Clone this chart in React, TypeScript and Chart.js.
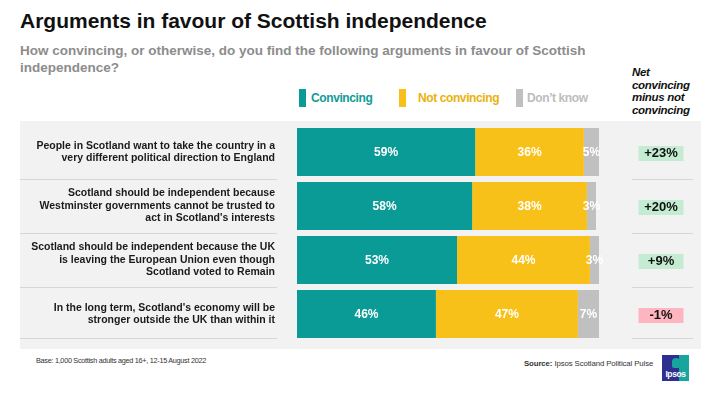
import React, { useEffect, useRef } from "react";
import { Chart, registerables } from "chart.js";

Chart.register(...registerables);

const FONT = '"Liberation Sans", Arial, Helvetica, sans-serif';

const categories: string[][] = [
  ["People in Scotland want to take the country in a", "very different political direction to England"],
  ["Scotland should be independent because", "Westminster governments cannot be trusted to", "act in Scotland's interests"],
  ["Scotland should be independent because the UK", "is leaving the European Union even though", "Scotland voted to Remain"],
  ["In the long term, Scotland's economy will be", "stronger outside the UK than within it"],
];
const seriesNames = ["Convincing", "Not convincing", "Don\u2019t know"];
const convincing = [59, 58, 53, 46];
const notConvincing = [36, 38, 44, 47];
const dontKnow = [5, 3, 3, 7];
const netValues = [23, 20, 9, -1];

const seriesColors = ["#0a9b97", "#f8c119", "#c0c0c0"];
const legendTextColors = ["#119b97", "#e9b20c", "#bdbdbd"];

export default function App() {
  const ref = useRef<HTMLCanvasElement | null>(null);

  useEffect(() => {
    const canvas = ref.current;
    if (!canvas) return;

    const segLabels = {
      id: "segLabels",
      afterDatasetsDraw(chart: any) {
        const c = chart.ctx;
        c.save();
        c.font = `bold 12px ${FONT}`;
        c.fillStyle = "#ffffff";
        c.textAlign = "center";
        c.textBaseline = "middle";
        chart.data.datasets.forEach((ds: any, di: number) => {
          const meta = chart.getDatasetMeta(di);
          meta.data.forEach((el: any, i: number) => {
            const v = ds.data[i];
            const p = el.getProps(["x", "base", "y"], true);
            c.fillText(v + "%", (p.x + p.base) / 2, p.y + 1);
          });
        });
        c.restore();
      },
    };

    const decor = {
      id: "decor",
      beforeDatasetsDraw(chart: any) {
        const c = chart.ctx;
        const ys = chart.scales.y;
        const n = categories.length;
        c.save();
        c.strokeStyle = "#d6d6d6";
        c.lineWidth = 1;
        for (let i = 0; i < n; i++) {
          const yc = ys.getPixelForValue(i);
          const yb = i < n - 1 ? (yc + ys.getPixelForValue(i + 1)) / 2 : yc + 24;
          const y = Math.round(yb) + 0.5;
          c.beginPath();
          c.moveTo(0, y);
          c.lineTo(257, y);
          c.moveTo(612, y);
          c.lineTo(673, y);
          c.stroke();
        }
        c.restore();
      },
      afterDraw(chart: any) {
        const c = chart.ctx;
        const ys = chart.scales.y;
        c.save();
        netValues.forEach((v, i) => {
          const yc = ys.getPixelForValue(i);
          const cx = 641;
          const w = 45;
          const h = 15;
          c.fillStyle = v >= 0 ? "#c3ecd2" : "#ffb5bf";
          c.fillRect(cx - w / 2, Math.round(yc - h / 2) + 1, w, h);
          c.fillStyle = "#111111";
          c.font = `bold 13px ${FONT}`;
          c.textAlign = "center";
          c.textBaseline = "middle";
          const t = (v > 0 ? "+" : "") + v + "%";
          c.fillText(t, cx, yc + 1.5);
        });
        c.restore();
      },
    };

    const chart = new Chart(canvas, {
      type: "bar",
      data: {
        labels: categories,
        datasets: [
          { label: seriesNames[0], data: convincing, backgroundColor: seriesColors[0] },
          { label: seriesNames[1], data: notConvincing, backgroundColor: seriesColors[1] },
          { label: seriesNames[2], data: dontKnow, backgroundColor: seriesColors[2] },
        ],
      },
      options: {
        indexAxis: "y",
        animation: false,
        responsive: true,
        maintainAspectRatio: false,
        datasets: {
          bar: { barPercentage: 0.89, categoryPercentage: 1, borderWidth: 0 },
        },
        layout: { padding: { top: 4, bottom: 8, left: 0, right: 102 } },
        plugins: {
          legend: { display: false },
          tooltip: { enabled: false },
          title: { display: false },
        },
        scales: {
          x: { stacked: true, min: 0, max: 100, display: false },
          y: {
            stacked: true,
            grid: { display: false, drawTicks: false, tickLength: 0 },
            border: { display: false },
            ticks: {
              color: "#1a1a1a",
              font: { family: FONT, size: 10.5, weight: "bold", lineHeight: 1.2 },
              padding: 22,
              autoSkip: false,
            },
            afterFit(scale: any) {
              scale.width = 277;
              scale.paddingTop = 0;
              scale.paddingBottom = 0;
            },
          },
        },
      } as any,
      plugins: [decor, segLabels],
    });
    return () => chart.destroy();
  }, []);

  const legendItems = [
    { x: 299, tx: 311 },
    { x: 399, tx: 418 },
    { x: 516, tx: 527 },
  ];

  return (
    <div
      style={{
        position: "fixed",
        left: 0,
        top: 0,
        width: 711,
        height: 399,
        background: "#ffffff",
        fontFamily: FONT,
        overflow: "hidden",
      }}
    >
      <div
        style={{
          position: "absolute",
          left: 20,
          top: 9,
          fontSize: 21,
          lineHeight: "24px",
          fontWeight: "bold",
          color: "#111",
          whiteSpace: "nowrap",
        }}
      >
        Arguments in favour of Scottish independence
      </div>
      <div
        style={{
          position: "absolute",
          left: 20,
          top: 42,
          width: 600,
          fontSize: 13.5,
          lineHeight: "17px",
          fontWeight: "bold",
          color: "#8c8c8c",
        }}
      >
        How convincing, or otherwise, do you find the following arguments in favour of Scottish
        <br />
        independence?
      </div>

      {legendItems.map((it, i) => (
        <React.Fragment key={i}>
          <div
            style={{
              position: "absolute",
              left: it.x,
              top: 89,
              width: 7,
              height: 18,
              background: seriesColors[i],
            }}
          />
          <div
            style={{
              position: "absolute",
              left: it.tx,
              top: 90,
              fontSize: 12,
              lineHeight: "16px",
              fontWeight: "bold",
              letterSpacing: "-0.4px",
              color: legendTextColors[i],
              whiteSpace: "nowrap",
            }}
          >
            {seriesNames[i]}
          </div>
        </React.Fragment>
      ))}

      <div
        style={{
          position: "absolute",
          left: 632,
          top: 66,
          fontSize: 11.5,
          lineHeight: "12.5px",
          fontWeight: "bold",
          fontStyle: "italic",
          letterSpacing: "-0.3px",
          color: "#111",
        }}
      >
        Net
        <br />
        convincing
        <br />
        minus not
        <br />
        convincing
      </div>

      <div
        style={{
          position: "absolute",
          left: 20,
          top: 121,
          width: 681,
          height: 228,
          background: "#f2f2f2",
        }}
      >
        <canvas ref={ref} />
      </div>

      <div
        style={{
          position: "absolute",
          left: 36,
          top: 356,
          fontSize: 7.3,
          lineHeight: "10px",
          color: "#333",
          letterSpacing: "-0.3px",
          whiteSpace: "nowrap",
        }}
      >
        Base: 1,000 Scottish adults aged 16+, 12-15 August 2022
      </div>
      <div
        style={{
          position: "absolute",
          left: 524,
          top: 359,
          fontSize: 7.8,
          lineHeight: "10px",
          color: "#333",
          letterSpacing: "-0.1px",
          whiteSpace: "nowrap",
        }}
      >
        <b>Source:</b> Ipsos Scotland Political Pulse
      </div>

      <div
        style={{
          position: "absolute",
          left: 662,
          top: 355,
          width: 27,
          height: 26,
          background: "linear-gradient(to right, #2e2f8e 0%, #2e2f8e 62%, #17a59e 62%, #17a59e 100%)",
          overflow: "hidden",
        }}
      >
        <div
          style={{
            position: "absolute",
            left: 10,
            top: 3,
            width: 8,
            height: 10,
            borderRadius: "4px 4px 2px 2px",
            background: "#17a59e",
          }}
        />
        <div
          style={{
            position: "absolute",
            left: 0,
            top: 14,
            width: 27,
            textAlign: "center",
            fontSize: 8.5,
            lineHeight: "10px",
            fontWeight: "bold",
            color: "#ffffff",
            letterSpacing: "-0.4px",
          }}
        >
          Ipsos
        </div>
      </div>
    </div>
  );
}
